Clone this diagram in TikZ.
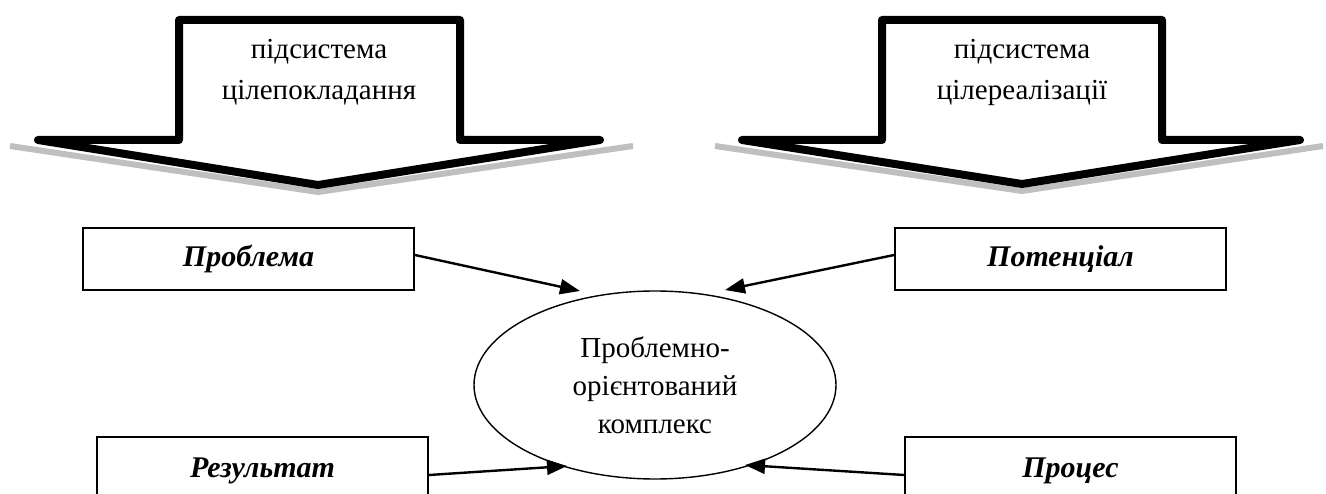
\documentclass[tikz,border=0pt]{standalone}
\usepackage{fontspec}
\setmainfont{Liberation Serif}
\usetikzlibrary{arrows.meta,shapes.geometric}
\begin{document}
\begin{tikzpicture}[x=1pt,y=-1pt,
  bigarrow/.style={draw=black, fill=white, line width=8pt, line join=round, line cap=round},
  shadowline/.style={draw=black!25, line width=6pt, line join=round},
  arrowtext/.style={align=center, font=\fontsize{29}{41}\selectfont},
  box/.style={draw, line width=1.8pt, inner sep=0pt,
              font=\fontsize{30}{32}\selectfont\bfseries\itshape},
  conn/.style={line width=2.4pt, -{Triangle[length=20pt,width=15pt]}},
  centre/.style={draw, ellipse, line width=1.4pt, minimum width=362pt, minimum height=188pt,
                 inner sep=0pt, align=center, font=\fontsize{29}{38}\selectfont}]
\clip (0,0) rectangle (1326,494);
\useasboundingbox (0,0) rectangle (1326,494);

% left big arrow
\draw[shadowline] (10,146) -- (318,192) -- (633,146);
\draw[bigarrow] (179,20) -- (460,20) -- (460,140) -- (600,140) -- (318,185)
  -- (38,140) -- (179,140) -- cycle;
\node[arrowtext] (ta) at (319,72) {підсистема\\цілепокладання};

% right big arrow
\draw[shadowline] (715,146) -- (1022,191) -- (1323,146);
\draw[bigarrow] (882,20) -- (1162,20) -- (1162,140) -- (1300,140) -- (1022,184)
  -- (742,140) -- (882,140) -- cycle;
\node[arrowtext] (tb) at (1022,72) {підсистема\\цілереалізації};

% boxes
\node[box, minimum width=331pt, minimum height=62pt] (prob) at (248.5,259) {Проблема};
\node[box, minimum width=331pt, minimum height=62pt] (pot) at (1060.5,259) {Потенціал};
\node[box, minimum width=331pt, minimum height=68pt] (res) at (262.5,471) {Результат};
\node[box, minimum width=331pt, minimum height=68pt] (proc) at (1070.5,471) {Процес};

% centre
\node[centre] (ell) at (655,385) {Проблемно-\\орієнтований\\комплекс};

\coordinate (e1) at (580,291);
\coordinate (e2) at (725,290);
\coordinate (e3) at (567,466);
\coordinate (e4) at (745,465);

\draw[conn] ([yshift=4pt]prob.east) -- (e1);
\draw[conn] ([yshift=4pt]pot.west) -- (e2);
\draw[conn] ([yshift=-4pt]res.east) -- (e3);
\draw[conn] ([yshift=-4pt]proc.west) -- (e4);
\end{tikzpicture}
\end{document}
